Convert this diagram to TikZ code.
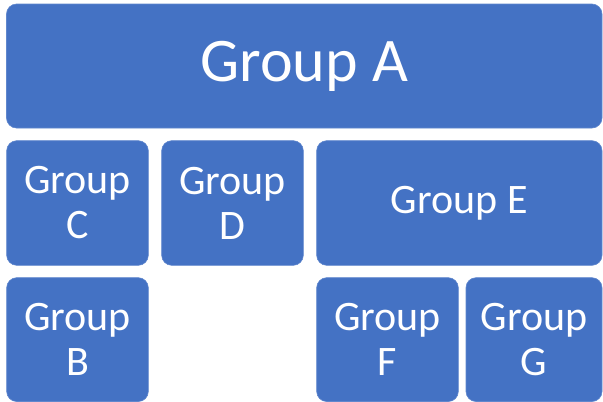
\documentclass[tikz,border=0pt]{standalone}
\usepackage{fontspec}
\setmainfont{Carlito}
\definecolor{boxblue}{HTML}{4472C4}
\begin{document}
\begin{tikzpicture}[x=1pt,y=-1pt,
  grp/.style={fill=boxblue, draw=boxblue!85!white, line width=0.6pt, rounded corners=10pt,
    text=white, align=center, inner sep=0pt, anchor=center,
    font=\fontsize{42}{45}\selectfont},
  big/.style={font=\fontsize{62}{66}\selectfont}]
\useasboundingbox (0,0) rectangle (603,402);
\node[grp,big, minimum width=595.5pt, minimum height=124pt] (A) at (304.25,66) {Group A};
\node[grp, minimum width=141.6pt, minimum height=124.6pt] (C) at (77.5,203) {Group\\C};
\node[grp, minimum width=141.6pt, minimum height=124.6pt] (D) at (232.5,203) {Group\\D};
\node[grp, minimum width=285.3pt, minimum height=124.6pt] (E) at (459.35,203) {Group E};
\node[grp, minimum width=141.6pt, minimum height=123.8pt] (B) at (77.5,339.6) {Group\\B};
\node[grp, minimum width=141.6pt, minimum height=123.8pt] (F) at (387.5,339.6) {Group\\F};
\node[grp, minimum width=136pt, minimum height=123.8pt] (G) at (534,339.6) {Group\\G};
\end{tikzpicture}
\end{document}
